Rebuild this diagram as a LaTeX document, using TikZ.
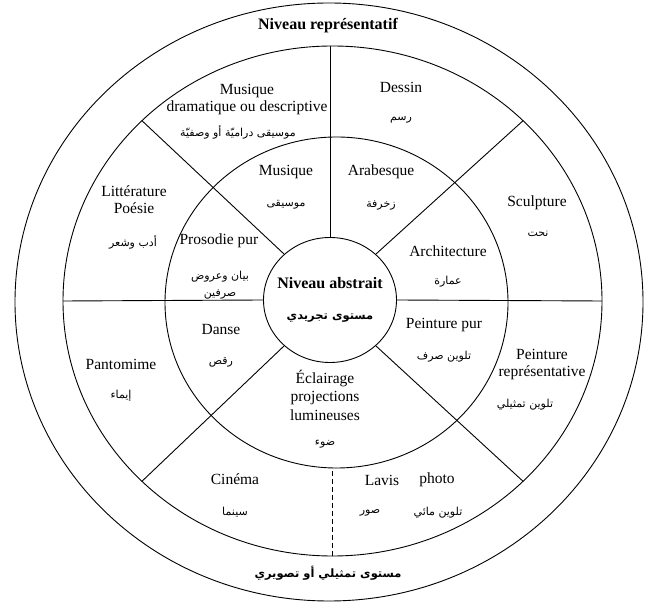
\documentclass[tikz,border=0pt]{standalone}
\usepackage{fontspec}
\setmainfont{Liberation Serif}
\newfontfamily\arabicfont[Script=Arabic]{DejaVu Sans}
\TeXXeTstate=1
\usetikzlibrary{shapes.geometric}

\begin{document}
\begin{tikzpicture}[x=1pt, y=1pt, line width=0.9pt,
        fr/.style={align=center, inner sep=0pt, font=\fontsize{15.5}{17}\selectfont},
        ar/.style={align=center, inner sep=0pt, font=\arabicfont\fontsize{11}{17}\selectfont},
        titlefr/.style={fr, font=\fontsize{16}{17}\selectfont\bfseries},
        titlear/.style={ar, font=\arabicfont\fontsize{11.5}{17}\selectfont\bfseries},
        core/.style={ellipse, draw, minimum width=133, minimum height=125, inner sep=0pt}]
    \useasboundingbox (0,0) rectangle (645,605);
    % rings
    \coordinate (c0) at (329,303);
    \coordinate (c1) at (332.5,304);
    \coordinate (c2) at (336.5,302.5);
    \draw (c0) ellipse [x radius=314, y radius=299];
    \draw (c1) ellipse [x radius=269.5, y radius=255];
    \draw (c2) ellipse [x radius=171.5, y radius=165.5];
    \node[core] (abstrait) at (330,305) {};
    % spokes
    \foreach \a in {0,45,...,315}
        \path (c1) ++(\a:269.5 and 255) coordinate (m\a);
    \path (c2) ++(270:171.5 and 165.5) coordinate (i270);
    \foreach \a in {0,45,135,180,225,315}
        \draw (abstrait.\a) -- (m\a);
    \draw (abstrait.90) -- (abstrait.90 |- m90);
    \draw[dash pattern=on 5pt off 3pt] (m270) -- (m270 |- i270);

    % outer ring
    \node[titlefr] (repr) at (328,579) {Niveau représentatif};
    \node[titlear] (repr-ar) at (328,32) {\beginR مستوى تمثيلي أو تصويري\endR};

    % middle ring
    \node[fr] (dramatique) at (247,505) {Musique\\dramatique ou descriptive};
    \node[ar] (dramatique-ar) at (238,473) {\beginR موسيقى دراميّة أو وصفيّة\endR};
    \node[fr] (dessin) at (401,518) {Dessin};
    \node[ar] (dessin-ar) at (401,485) {\beginR رسم\endR};
    \node[fr] (poesie) at (134,405) {Littérature\\Poésie};
    \node[ar] (poesie-ar) at (133,363) {\beginR أدب وشعر\endR};
    \node[fr] (sculpture) at (537,402) {Sculpture};
    \node[ar] (sculpture-ar) at (538,371) {\beginR نحت\endR};
    \node[fr] (pantomime) at (121,241) {Pantomime};
    \node[ar] (pantomime-ar) at (121,209) {\beginR إيماء\endR};
    \node[fr] (peinture) at (542,240) {Peinture\\représentative};
    \node[ar] (peinture-ar) at (525,200) {\beginR تلوين تمثيلي\endR};
    \node[fr] (cinema) at (235,126) {Cinéma};
    \node[ar] (cinema-ar) at (235,93) {\beginR سينما\endR};
    \node[fr] (lavis) at (382,125) {Lavis};
    \node[ar] (lavis-ar) at (370,92) {\beginR صور\endR};
    \node[fr] (photo) at (437,125) {photo};
    \node[ar] (photo-ar) at (438,92) {\beginR تلوين مائي\endR};

    % inner ring
    \node[fr] (musique) at (286,433) {Musique};
    \node[ar] (musique-ar) at (286,400) {\beginR موسيقى\endR};
    \node[fr] (arabesque) at (381,433) {Arabesque};
    \node[ar] (arabesque-ar) at (381,400) {\beginR زخرفة\endR};
    \node[fr] (prosodie) at (219,364) {Prosodie pur};
    \node[ar] (prosodie-ar) at (220,320) {\beginR بيان وعروض\endR\\\beginR صرفين\endR};
    \node[fr] (architecture) at (448,354) {Architecture};
    \node[ar] (architecture-ar) at (448,323) {\beginR عمارة\endR};
    \node[fr] (danse) at (221,275) {Danse};
    \node[ar] (danse-ar) at (221,243) {\beginR رقص\endR};
    \node[fr] (pur) at (444,280) {Peinture pur};
    \node[ar] (pur-ar) at (444,248) {\beginR تلوين صرف\endR};
    \node[fr, font=\fontsize{15.5}{18.5}\selectfont] (eclairage) at (325,210) {Éclairage\\projections\\lumineuses};
    \node[ar] (eclairage-ar) at (325,161) {\beginR ضوء\endR};

    % core
    \node[titlefr] (abstrait-fr) at (330,322) {Niveau abstrait};
    \node[titlear] (abstrait-ar) at (330,287) {\beginR مستوى تجريدي\endR};
\end{tikzpicture}
\end{document}
